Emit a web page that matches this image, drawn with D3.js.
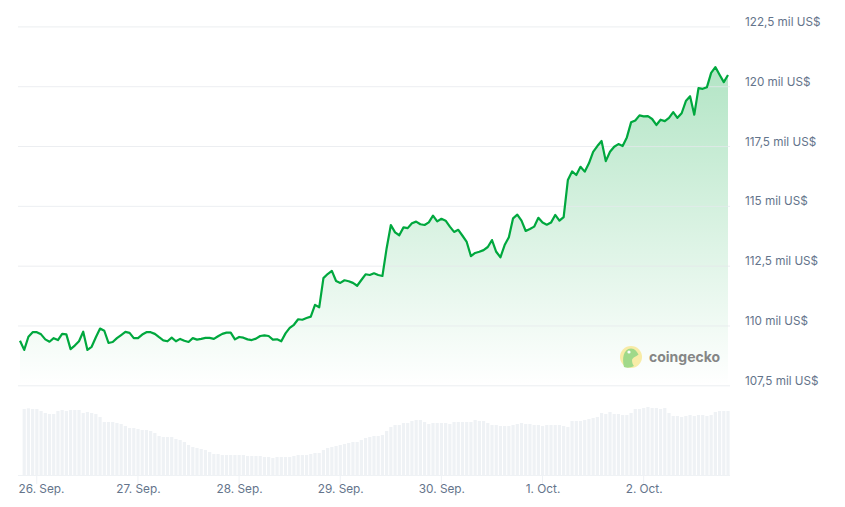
<!DOCTYPE html>
<html>
<head>
<meta charset="utf-8">
<script src="https://cdn.jsdelivr.net/npm/d3@7"></script>
<style>
  body { margin: 0; background: #fff; }
  text { font-family: Inter, sans-serif; }
</style>
</head>
<body>
<svg id="chart" width="845" height="507"></svg>
<script>
// hourly price, thousands of US$
const prices = [
  109.36,108.98,109.53,109.72,109.72,109.63,109.42,109.32,109.47,109.39,109.65,109.63,109.01,109.16,109.34,109.74,108.98,109.11,109.51,109.87,
  109.78,109.27,109.31,109.47,109.60,109.73,109.69,109.47,109.47,109.62,109.72,109.72,109.65,109.51,109.38,109.34,109.49,109.34,109.44,109.36,
  109.31,109.47,109.41,109.44,109.48,109.48,109.44,109.55,109.65,109.70,109.70,109.42,109.52,109.49,109.42,109.39,109.45,109.56,109.59,109.56,
  109.41,109.42,109.34,109.67,109.90,110.03,110.26,110.24,110.31,110.37,110.86,110.76,111.98,112.15,112.28,111.86,111.78,111.89,111.85,111.78,
  111.66,111.90,112.14,112.11,112.18,112.11,112.07,113.23,114.20,113.89,113.77,114.10,114.07,114.27,114.34,114.23,114.20,114.31,114.59,114.35,
  114.46,114.38,114.13,113.91,114.00,113.75,113.49,112.90,113.03,113.08,113.15,113.28,113.57,113.08,112.85,113.36,113.69,114.48,114.63,114.38,
  113.95,114.03,114.13,114.50,114.30,114.21,114.30,114.62,114.38,114.53,116.08,116.44,116.29,116.63,116.43,116.78,117.26,117.50,117.71,116.87,
  117.26,117.47,117.58,117.50,117.86,118.49,118.57,118.78,118.74,118.75,118.63,118.38,118.60,118.54,118.68,118.92,118.68,118.87,119.38,119.58,
  118.81,119.92,119.89,119.96,120.56,120.80,120.48,120.17,120.47
];
// relative volume, one bar per hour from the second price on
const volumes = [
  198,200,198,198,192,186,183,183,192,195,192,195,195,195,186,189,186,183,174,159,
  159,159,156,153,147,141,141,138,135,135,132,126,117,114,114,114,108,105,99,90,
  84,81,78,75,69,63,63,60,60,60,60,60,60,57,57,57,57,54,54,51,
  54,54,54,54,57,60,60,60,63,66,66,75,81,84,87,90,93,96,99,99,
  105,111,114,117,117,120,132,144,150,150,156,156,162,165,165,159,153,156,156,156,
  156,153,159,159,159,159,159,165,162,162,156,150,150,147,147,147,150,153,156,153,
  153,150,150,147,150,150,150,150,147,144,162,162,162,165,168,171,174,186,183,189,
  183,183,180,180,186,198,198,201,204,201,201,198,201,186,177,177,174,177,180,177,
  180,180,177,180,189,192,192,192
];
const priceTicks = [107.5, 110, 112.5, 115, 117.5, 120, 122.5];
const dayTicks = [
  { date: Date.UTC(2025, 8, 26), label: "26. Sep." },
  { date: Date.UTC(2025, 8, 27), label: "27. Sep." },
  { date: Date.UTC(2025, 8, 28), label: "28. Sep." },
  { date: Date.UTC(2025, 8, 29), label: "29. Sep." },
  { date: Date.UTC(2025, 8, 30), label: "30. Sep." },
  { date: Date.UTC(2025, 9, 1), label: "1. Oct." },
  { date: Date.UTC(2025, 9, 2), label: "2. Oct." }
];

const hour = 3600000;
const startTime = Date.UTC(2025, 8, 25, 20, 8);
const times = prices.map((d, i) => startTime + i * hour);

const x = d3.scaleUtc().domain([times[0], times[times.length - 1]]).range([20, 728]);
const y = d3.scaleLinear().domain([107.5, 122.5]).range([385.3, 26.4]);
const yVol = d3.scaleLinear().domain([0, 240]).range([475, 395]);

const svg = d3.select("#chart");

const grad = svg.append("defs").append("linearGradient")
  .attr("id", "areaFill")
  .attr("gradientUnits", "userSpaceOnUse")
  .attr("x1", 0).attr("x2", 0)
  .attr("y1", y(d3.max(prices))).attr("y2", y(107.5));
grad.append("stop").attr("offset", 0).attr("stop-color", "#00a83e").attr("stop-opacity", 0.3);
grad.append("stop").attr("offset", 1).attr("stop-color", "#00a83e").attr("stop-opacity", 0);

// area first, grid sits on top of it
svg.append("path")
  .datum(prices)
  .attr("fill", "url(#areaFill)")
  .attr("d", d3.area().x((d, i) => x(times[i])).y0(y(107.5)).y1(d => y(d)));

// y axis with long ticks as grid
const yAxis = svg.append("g")
  .attr("transform", "translate(730,0)")
  .call(d3.axisRight(y)
    .tickValues(priceTicks)
    .tickSize(0)
    .tickPadding(15)
    .tickFormat(d => String(d).replace(".", ",") + " mil US$"));
yAxis.select(".domain").remove();
yAxis.selectAll("text")
  .attr("dy", "-0.08em")
  .attr("font-size", 11.7)
  .style("font-family", "Inter, sans-serif")
  .attr("fill", "#64748b");
yAxis.selectAll(".tick line")
  .attr("x1", -712).attr("x2", 0)
  .attr("stroke", "#e6e8ec")
  .attr("stroke-opacity", 0.75);

// volume bars
svg.append("g").selectAll("rect")
  .data(volumes)
  .join("rect")
  .attr("x", (d, i) => x(times[i + 1]) - 1.6)
  .attr("width", 3.2)
  .attr("y", d => yVol(d))
  .attr("height", d => yVol(0) - yVol(d))
  .attr("fill", "#eff2f5");

// x axis
const xAxis = svg.append("g")
  .attr("transform", `translate(0,${yVol(0)})`)
  .call(d3.axisBottom(x)
    .tickValues(dayTicks.map(d => d.date))
    .tickSize(9)
    .tickPadding(1)
    .tickFormat((d, i) => dayTicks[i].label));
xAxis.select(".domain")
  .attr("d", "M18,0.5H730")
  .attr("stroke", "#eff2f5");
xAxis.selectAll(".tick line").attr("stroke", "#eff2f5");
xAxis.selectAll("text")
  .attr("font-size", 11.8)
  .style("font-family", "Inter, sans-serif")
  .attr("fill", "#64748b");
// first label is pushed right so it stays inside the plot
xAxis.select(".tick text").attr("text-anchor", "start").attr("x", 18 - x(dayTicks[0].date));
xAxis.selectAll(".tick").filter((d, i) => i > 0).select("text").attr("dx", 0.5);

// price line
svg.append("path")
  .datum(prices)
  .attr("fill", "none")
  .attr("stroke", "#00a83e")
  .attr("stroke-width", 2.2)
  .attr("stroke-linejoin", "round")
  .attr("d", d3.line().x((d, i) => x(times[i])).y(d => y(d)));

// watermark
const logo = svg.append("g").attr("transform", "translate(631,357)").attr("opacity", 0.7);
logo.append("circle").attr("r", 11).attr("fill", "#f8e583");
logo.append("path")
  .attr("d", "M-7,10 C-9,2 -8,-8 0,-8.5 C4,-8.5 6,-5 7.5,-2.5 C5,0 2,0 1,3 C1,6 2,8 3,9 C-1,11 -4,11 -7,10 Z")
  .attr("fill", "#7ccb5b");
logo.append("circle").attr("cx", -2).attr("cy", -5).attr("r", 1.6).attr("fill", "#fff");
logo.append("text")
  .attr("x", 18)
  .attr("y", 4.5)
  .attr("font-size", 14)
  .attr("font-weight", 700)
  .attr("fill", "#555")
  .text("coingecko");
</script>
</body>
</html>
